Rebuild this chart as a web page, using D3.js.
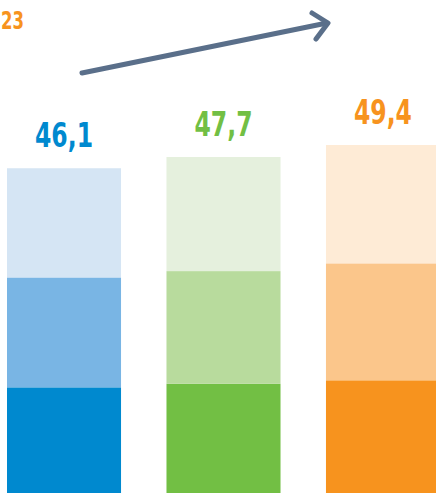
<!DOCTYPE html>
<html>
<head>
<meta charset="utf-8">
<script src="https://cdn.jsdelivr.net/npm/d3@7"></script>
<style>
  html, body { margin: 0; padding: 0; background: #fff; }
  svg { display: block; }
  text { font-family: "Liberation Sans Narrow", "DejaVu Sans Condensed", sans-serif; font-weight: bold; }
</style>
</head>
<body>
<div id="chart"></div>
<script>
// data
const years = ["2021", "2022", "2023"];
const totals = [46.1, 47.7, 49.4];
const totalLabels = ["46,1", "47,7", "49,4"];
// stacked parts, bottom to top
const partBottom = [15.0, 15.5, 16.0];
const partMiddle = [15.6, 16.0, 16.6];
const partTop = [15.5, 16.2, 16.8];

const width = 436, height = 493;

const palette = {
    "2021": ["#0089cf", "#79b5e4", "#d5e5f4"],
    "2022": ["#72bf44", "#b8db9d", "#e5f0dd"],
    "2023": ["#f7931e", "#fbc68b", "#feebd6"]
};

const svg = d3.select("#chart")
    .append("svg")
    .attr("width", width)
    .attr("height", height);

const x = d3.scaleBand()
    .domain(years)
    .range([7, 440])
    .paddingInner(0.285)
    .paddingOuter(0);

const y = d3.scaleLinear()
    .domain([0, 49.4])
    .range([height, 145]);

// build stack rows
const rows = years.map((yr, i) => ({ year: yr, p0: partBottom[i], p1: partMiddle[i], p2: partTop[i] }));
const stack = d3.stack().keys(["p0", "p1", "p2"])(rows);

stack.forEach((layer, li) => {
    svg.append("g")
        .selectAll("rect")
        .data(layer)
        .enter()
        .append("rect")
        .attr("x", d => x(d.data.year))
        .attr("width", x.bandwidth())
        .attr("y", d => y(d[1]))
        .attr("height", d => y(d[0]) - y(d[1]))
        .attr("fill", d => palette[d.data.year][li]);
});

// total labels (condensed look: squeeze to the original width)
svg.append("g")
    .selectAll("text")
    .data(years)
    .enter()
    .append("text")
    .attr("x", d => x(d) + x.bandwidth() / 2)
    .attr("y", (d, i) => y(totals[i]) - 21)
    .attr("text-anchor", "middle")
    .attr("textLength", 58)
    .attr("lengthAdjust", "spacingAndGlyphs")
    .style("font-size", "33px")
    .attr("fill", d => palette[d][0])
    .text((d, i) => totalLabels[i]);

// year fragment top-left
svg.append("text")
    .attr("x", 1)
    .attr("y", 29)
    .attr("textLength", 23)
    .attr("lengthAdjust", "spacingAndGlyphs")
    .style("font-size", "25px")
    .attr("fill", "#f7931e")
    .text("23");

// trend arrow
const arrow = svg.append("g")
    .attr("fill", "none")
    .attr("stroke", "#5a6f8a")
    .attr("stroke-width", 5)
    .attr("stroke-linecap", "round")
    .attr("stroke-linejoin", "round");

arrow.append("line")
    .attr("x1", 82).attr("y1", 73)
    .attr("x2", 327).attr("y2", 23);

arrow.append("path")
    .attr("d", "M 312,13 L 328,23 L 316,39");
</script>
</body>
</html>
